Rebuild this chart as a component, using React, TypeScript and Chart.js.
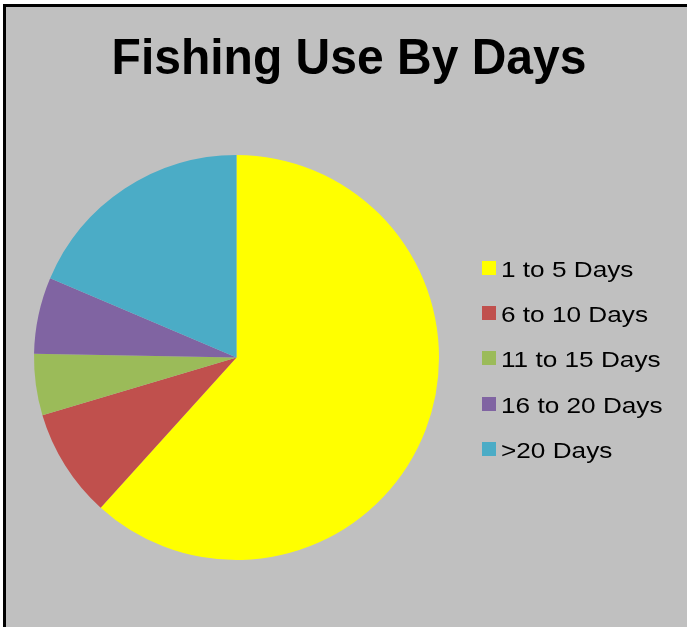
import React, { useEffect, useRef } from "react";
import { Chart, registerables } from "chart.js";

Chart.register(...registerables);

const TITLE = "Fishing Use By Days";
const categories = ["1 to 5 Days", "6 to 10 Days", "11 to 15 Days", "16 to 20 Days", ">20 Days"];
const shares = [61.7, 8.7, 4.9, 6.1, 18.6];
const sliceColors = ["#FFFF00", "#C0504D", "#9BBB59", "#8064A2", "#4BACC6"];

const FONT = '"Liberation Sans", Arial, Helvetica, sans-serif';

const titleAndLegendPlugin = {
  id: "titleAndLegend",
  afterDraw(chart: any) {
    const ctx = chart.ctx as CanvasRenderingContext2D;
    // title
    ctx.save();
    ctx.fillStyle = "#000";
    ctx.font = `bold 48px ${FONT}`;
    ctx.textAlign = "center";
    ctx.textBaseline = "alphabetic";
    ctx.translate(343, 67);
    ctx.scale(1, 1.04);
    ctx.fillText(TITLE, 0, 0);
    ctx.restore();

    // legend
    const labels: string[] = chart.data.labels;
    const colors: string[] = chart.data.datasets[0].backgroundColor;
    const firstBaseline = 270;
    const rowGap = 45.2;
    labels.forEach((label, i) => {
      const base = firstBaseline + i * rowGap;
      ctx.save();
      ctx.fillStyle = colors[i];
      ctx.fillRect(476, Math.round(base - 16), 14, 14);
      ctx.translate(495, base);
      ctx.scale(1.19, 1);
      ctx.fillStyle = "#000";
      ctx.font = `22px ${FONT}`;
      ctx.textAlign = "left";
      ctx.textBaseline = "alphabetic";
      ctx.fillText(label, 0, 0);
      ctx.restore();
    });
  },
};

export default function App() {
  const ref = useRef<HTMLCanvasElement | null>(null);

  useEffect(() => {
    if (!ref.current) return;
    const chart = new Chart(ref.current, {
      type: "pie",
      data: {
        labels: categories,
        datasets: [
          {
            data: shares,
            backgroundColor: sliceColors,
            borderWidth: 0,
            hoverOffset: 0,
          },
        ],
      },
      options: {
        animation: false,
        responsive: false,
        events: [],
        layout: { padding: { left: 28, right: 248, top: 148, bottom: 67 } },
        plugins: {
          legend: { display: false },
          title: { display: false },
          tooltip: { enabled: false },
        },
      },
      plugins: [titleAndLegendPlugin],
    } as any);
    return () => chart.destroy();
  }, []);

  return (
    <div
      style={{
        position: "absolute",
        left: 0,
        top: 0,
        width: 687,
        height: 627,
        background: "#ffffff",
        overflow: "hidden",
      }}
    >
      <div
        style={{
          position: "absolute",
          left: 3,
          top: 4,
          width: 684,
          height: 623,
          boxSizing: "border-box",
          borderLeft: "3px solid #000",
          borderTop: "3px solid #000",
          background: "#C0C0C0",
        }}
      >
        <canvas ref={ref} width={681} height={620} style={{ display: "block", width: 681, height: 620 }} />
      </div>
    </div>
  );
}
